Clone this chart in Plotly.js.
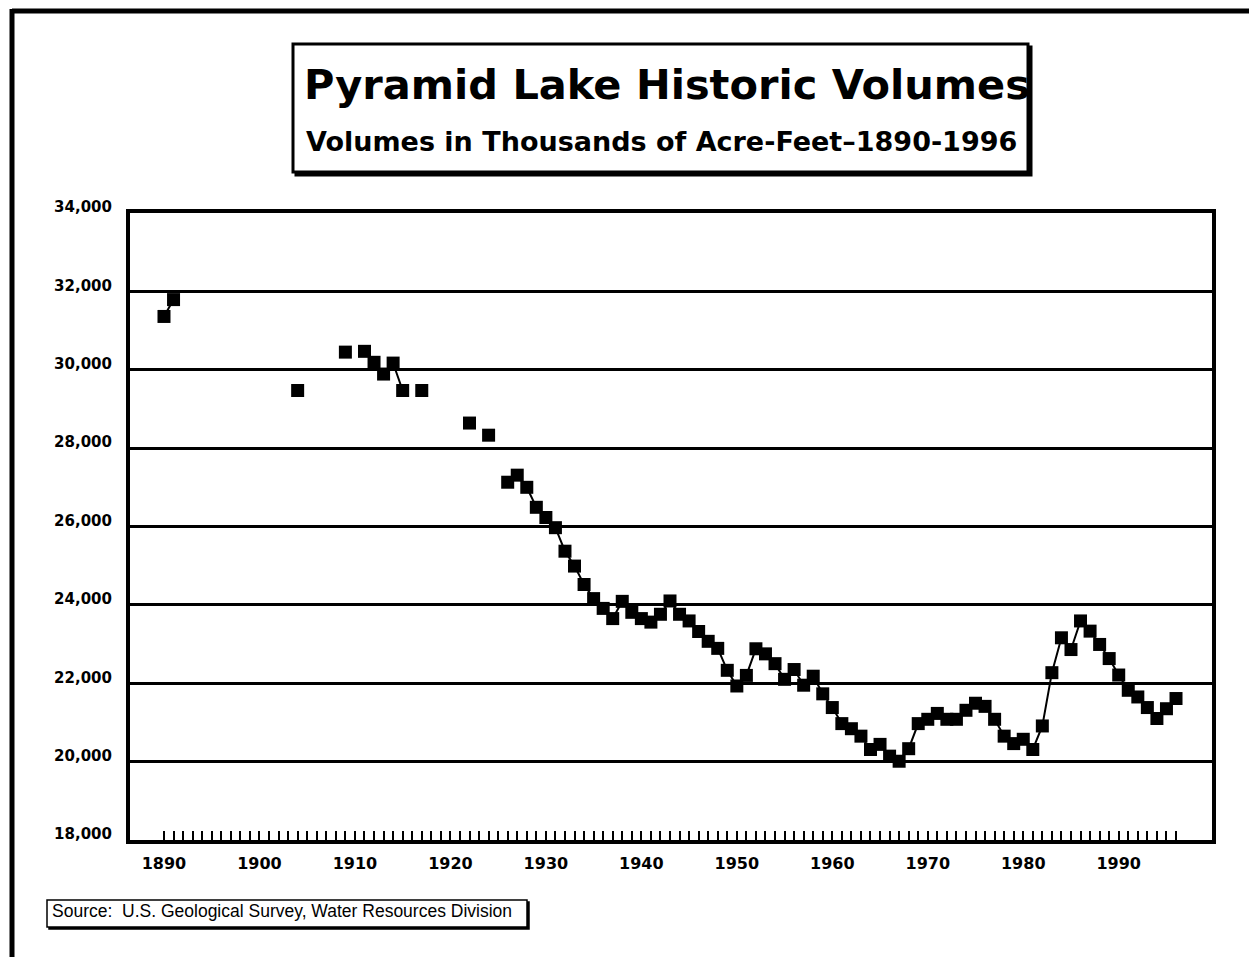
<!DOCTYPE html>
<html>
<head>
<meta charset="utf-8">
<script src="https://cdn.plot.ly/plotly-3.0.1.min.js"></script>
<style>
  html, body { margin: 0; padding: 0; background: #ffffff; }
  #chart { width: 1249px; height: 957px; }
</style>
</head>
<body>
<div id="chart"></div>
<script>
// Years 1890-1996; null = no observation that year (line breaks there)
const years = [
  1890,1891,1892,1893,1894,1895,1896,1897,1898,1899,
  1900,1901,1902,1903,1904,1905,1906,1907,1908,1909,
  1910,1911,1912,1913,1914,1915,1916,1917,1918,1919,
  1920,1921,1922,1923,1924,1925,1926,1927,1928,1929,
  1930,1931,1932,1933,1934,1935,1936,1937,1938,1939,
  1940,1941,1942,1943,1944,1945,1946,1947,1948,1949,
  1950,1951,1952,1953,1954,1955,1956,1957,1958,1959,
  1960,1961,1962,1963,1964,1965,1966,1967,1968,1969,
  1970,1971,1972,1973,1974,1975,1976,1977,1978,1979,
  1980,1981,1982,1983,1984,1985,1986,1987,1988,1989,
  1990,1991,1992,1993,1994,1995,1996
];

// Lake volume, thousands of acre-feet
const volumes = [
  31360,31790,null,null,null,null,null,null,null,null,
  null,null,null,null,29470,null,null,null,null,30450,
  null,30470,30190,29890,30170,29470,null,29470,null,null,
  null,null,28640,null,28330,null,27130,27310,27000,26490,
  26230,25970,25370,24990,24520,24160,23910,23650,24090,23810,
  23650,23560,23760,24100,23760,23590,23320,23070,22890,22330,
  21930,22200,22880,22750,22500,22100,22350,21950,22180,21730,
  21380,20970,20840,20650,20310,20440,20140,20010,20330,20970,
  21080,21230,21080,21080,21310,21490,21410,21080,20650,20460,
  20570,20310,20910,22270,23160,22860,23590,23330,22990,22630,
  22210,21820,21650,21380,21100,21350,21610
];

const yTicks = [18000,20000,22000,24000,26000,28000,30000,32000,34000];
const xTickText = years.map(function (y) { return (y % 10 === 0) ? String(y) : ''; });

const titleText = 'Pyramid Lake Historic Volumes';
const subtitleText = 'Volumes in Thousands of Acre-Feet\u20131890-1996';
const sourceText = 'Source:\u00a0 U.S. Geological Survey, Water Resources Division';

const trace = {
  type: 'scatter',
  mode: 'lines+markers',
  x: years,
  y: volumes,
  connectgaps: false,
  line: { color: '#000000', width: 2 },
  marker: { symbol: 'square', size: 13, color: '#000000', line: { width: 0 } },
  hoverinfo: 'x+y',
  showlegend: false
};

const W = 1249, H = 957;
const L = 130, R = 37, T = 213, B = 117;
const PW = W - L - R, PH = H - T - B;
function px(x) { return (x - L) / PW; }
function py(y) { return (H - B - y) / PH; }

const boldFont = 'DejaVu Sans, Verdana, sans-serif';

const layout = {
  width: W,
  height: H,
  margin: { l: L, r: R, t: T, b: B, pad: 0 },
  paper_bgcolor: '#ffffff',
  plot_bgcolor: '#ffffff',
  showlegend: false,
  title: {
    text: titleText,
    font: { family: boldFont, size: 41.5, weight: 'bold', color: '#000000' },
    xref: 'container', x: 667 / W, xanchor: 'center',
    yref: 'container', y: 1 - 84 / H, yanchor: 'middle'
  },
  xaxis: {
    range: [1886.44, 1999.77],
    tickmode: 'array',
    tickvals: years,
    ticktext: xTickText,
    ticks: 'inside',
    ticklen: 9,
    tickwidth: 2,
    tickcolor: '#000000',
    ticklabelstandoff: 6,
    tickfont: { family: boldFont, size: 16, weight: 'bold', color: '#000000' },
    showgrid: false,
    zeroline: false,
    showline: true,
    linecolor: '#000000',
    linewidth: 4,
    mirror: true,
    fixedrange: true
  },
  yaxis: {
    range: [18000, 34000],
    tickmode: 'array',
    tickvals: yTicks,
    tickformat: ',d',
    ticks: '',
    ticklabelstandoff: 11,
    ticklabelshift: -6,
    tickfont: { family: boldFont, size: 15, weight: 'bold', color: '#000000' },
    showgrid: true,
    gridcolor: '#000000',
    gridwidth: 3,
    zeroline: false,
    showline: true,
    linecolor: '#000000',
    linewidth: 4,
    mirror: true,
    fixedrange: true
  },
  shapes: [
    // outer page frame (top and left)
    { type: 'line', xref: 'paper', yref: 'paper', x0: px(12), x1: px(1260), y0: py(11), y1: py(11),
      line: { color: '#000000', width: 5 } },
    { type: 'line', xref: 'paper', yref: 'paper', x0: px(12), x1: px(12), y0: py(9), y1: py(970),
      line: { color: '#000000', width: 5 } },
    // title box shadow + box
    { type: 'rect', xref: 'paper', yref: 'paper', x0: px(296), x1: px(1031), y0: py(175), y1: py(47),
      fillcolor: '#000000', line: { color: '#000000', width: 3 } },
    { type: 'rect', xref: 'paper', yref: 'paper', x0: px(293), x1: px(1028), y0: py(172), y1: py(44),
      fillcolor: '#ffffff', line: { color: '#000000', width: 3 } },
    // source box shadow + box
    { type: 'rect', xref: 'paper', yref: 'paper', x0: px(49), x1: px(529), y0: py(929), y1: py(902),
      fillcolor: '#000000', line: { color: '#000000', width: 1.5 } },
    { type: 'rect', xref: 'paper', yref: 'paper', x0: px(47), x1: px(527), y0: py(927), y1: py(900),
      fillcolor: '#ffffff', line: { color: '#000000', width: 1.5 } }
  ],
  annotations: [
    { xref: 'paper', yref: 'paper', x: px(661), y: py(141), xanchor: 'center', yanchor: 'middle',
      text: subtitleText, showarrow: false,
      font: { family: boldFont, size: 27, weight: 'bold', color: '#000000' } },
    { xref: 'paper', yref: 'paper', x: px(50), y: py(911), xanchor: 'left', yanchor: 'middle',
      text: sourceText, showarrow: false,
      font: { family: 'Liberation Sans, Arial, sans-serif', size: 17.5, color: '#000000' } }
  ]
};

Plotly.newPlot('chart', [trace], layout, { staticPlot: true, displayModeBar: false });
</script>
</body>
</html>
